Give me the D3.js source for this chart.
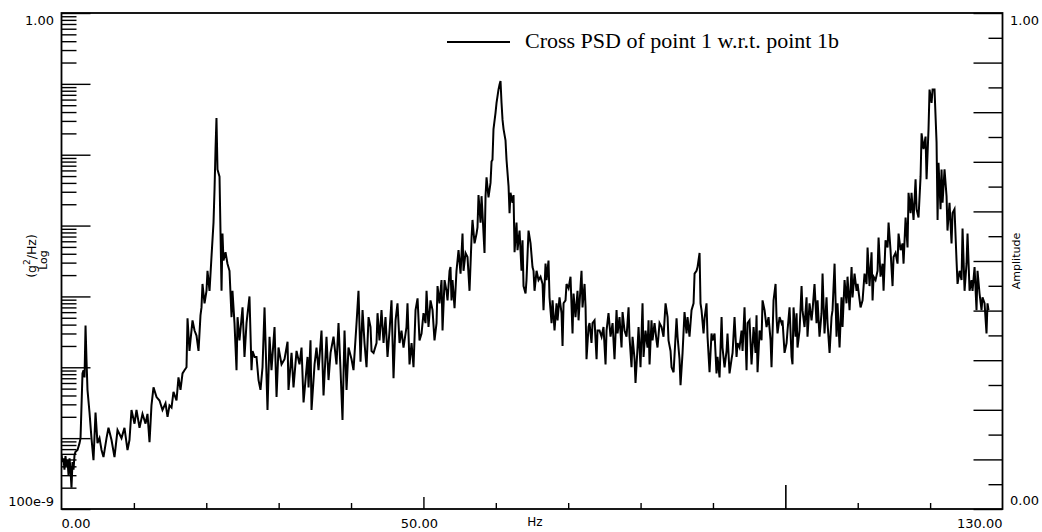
<!DOCTYPE html>
<html>
<head>
<meta charset="utf-8">
<script src="https://cdn.jsdelivr.net/npm/d3@7"></script>
<style>
  body { margin: 0; background: #fff; }
  svg { display: block; }
  .num { font-family: "DejaVu Sans", Verdana, sans-serif; font-size: 13px; fill: #000; }
</style>
</head>
<body>
<svg id="chart" width="1042" height="532"></svg>
<script>
// Cross PSD, point 1 w.r.t. point 1b: frequency (Hz) and PSD (g^2/Hz)
const freqHz = [
  0.00, 0.14, 0.28, 0.41, 0.55, 0.69, 0.83, 0.97, 1.11, 1.24, 1.38, 1.52, 1.66, 1.80, 1.93, 2.21, 2.49, 2.63,
  2.90, 3.04, 3.18, 3.32, 3.45, 3.59, 3.87, 4.14, 4.42, 4.70, 4.97, 5.25, 5.53, 5.80, 6.22, 6.49, 6.91, 7.32,
  7.74, 8.29, 8.70, 9.12, 9.39, 9.67, 10.09, 10.36, 10.78, 11.19, 11.61, 11.88, 12.16, 12.43, 12.71, 13.13,
  13.54, 13.95, 14.37, 14.65, 14.92, 15.20, 15.47, 15.89, 16.16, 16.44, 16.72, 16.99, 17.27, 17.41, 17.68,
  17.82, 18.10, 18.38, 18.65, 18.93, 19.20, 19.34, 19.48, 19.76, 20.03, 20.17, 20.45, 20.72, 21.00, 21.14,
  21.28, 21.41, 21.55, 21.83, 22.11, 22.24, 22.38, 22.66, 22.93, 23.21, 23.49, 23.62, 23.90, 24.18, 24.32,
  24.59, 25.01, 25.28, 25.56, 25.97, 26.25, 26.39, 26.67, 26.94, 27.22, 27.49, 27.77, 28.05, 28.46, 28.74,
  29.01, 29.43, 29.71, 29.98, 30.40, 30.81, 31.23, 31.36, 31.78, 32.05, 32.47, 32.88, 33.16, 33.44, 33.99,
  34.13, 34.40, 34.54, 34.96, 35.23, 35.51, 35.92, 36.20, 36.61, 36.89, 37.17, 37.58, 37.99, 38.27, 38.55,
  38.82, 39.10, 39.38, 39.65, 40.07, 40.34, 40.76, 41.03, 41.31, 41.59, 41.86, 42.14, 42.42, 42.69, 42.83,
  43.11, 43.52, 43.66, 43.93, 44.21, 44.49, 44.76, 45.04, 45.32, 45.59, 45.87, 46.15, 46.42, 46.70, 46.97,
  47.25, 47.66, 47.80, 48.08, 48.36, 48.63, 48.91, 49.19, 49.46, 49.74, 50.01, 50.29, 50.43, 50.70, 50.98,
  51.26, 51.53, 51.81, 51.95, 52.22, 52.50, 52.64, 52.92, 53.19, 53.33, 53.61, 53.74, 53.88, 54.02, 54.30,
  54.57, 54.85, 55.13, 55.40, 55.54, 55.82, 56.09, 56.37, 56.65, 56.78, 57.06, 57.34, 57.47, 57.61, 57.89,
  58.03, 58.16, 58.44, 58.58, 58.72, 58.99, 59.27, 59.41, 59.54, 59.68, 59.96, 60.10, 60.37, 60.51, 60.65,
  60.79, 60.93, 61.07, 61.34, 61.48, 61.76, 61.90, 62.03, 62.31, 62.45, 62.59, 62.86, 63.00, 63.28, 63.55,
  63.69, 63.83, 64.11, 64.24, 64.52, 64.80, 65.07, 65.21, 65.35, 65.63, 65.90, 66.18, 66.46, 66.59, 66.87,
  67.01, 67.28, 67.42, 67.70, 67.84, 68.11, 68.39, 68.53, 68.80, 69.08, 69.22, 69.36, 69.63, 69.77, 70.05,
  70.32, 70.60, 70.74, 71.01, 71.29, 71.43, 71.71, 71.84, 71.98, 72.26, 72.40, 72.53, 72.81, 72.95, 73.22,
  73.36, 73.64, 73.92, 74.05, 74.33, 74.61, 74.88, 75.16, 75.30, 75.57, 75.85, 76.13, 76.40, 76.68, 76.82,
  77.09, 77.37, 77.51, 77.78, 78.06, 78.34, 78.47, 78.75, 78.89, 79.17, 79.30, 79.58, 79.72, 79.99, 80.27,
  80.41, 80.68, 80.96, 81.10, 81.24, 81.51, 81.65, 81.93, 82.20, 82.34, 82.62, 82.90, 83.17, 83.45, 83.73,
  83.86, 84.14, 84.28, 84.56, 84.97, 85.11, 85.38, 85.52, 85.80, 86.07, 86.35, 86.49, 86.76, 87.04, 87.32,
  87.46, 87.73, 87.87, 88.15, 88.28, 88.42, 88.70, 88.84, 89.11, 89.25, 89.53, 89.80, 89.94, 90.22, 90.49,
  90.63, 90.91, 91.19, 91.32, 91.60, 91.88, 92.01, 92.29, 92.57, 92.71, 92.98, 93.26, 93.40, 93.67, 93.95,
  94.09, 94.36, 94.64, 94.78, 95.05, 95.33, 95.61, 95.88, 96.02, 96.16, 96.44, 96.71, 96.85, 97.13, 97.40,
  97.68, 97.96, 98.09, 98.37, 98.65, 98.78, 98.92, 99.20, 99.48, 99.61, 99.89, 100.17, 100.30, 100.58,
  100.86, 100.99, 101.13, 101.41, 101.55, 101.68, 101.96, 102.24, 102.37, 102.65, 102.93, 103.06, 103.34,
  103.62, 103.76, 104.03, 104.31, 104.45, 104.72, 105.00, 105.14, 105.41, 105.69, 105.83, 106.11, 106.38,
  106.52, 106.80, 107.07, 107.21, 107.49, 107.76, 107.90, 108.18, 108.45, 108.59, 108.87, 109.15, 109.28,
  109.56, 109.84, 109.98, 110.39, 110.67, 110.94, 111.22, 111.36, 111.63, 111.91, 112.05, 112.19, 112.46,
  112.74, 112.88, 113.15, 113.43, 113.57, 113.84, 114.12, 114.26, 114.53, 114.81, 114.95, 115.22, 115.50,
  115.64, 115.92, 116.19, 116.33, 116.61, 116.88, 117.02, 117.30, 117.43, 117.71, 117.99, 118.13, 118.40,
  118.68, 118.82, 119.09, 119.37, 119.51, 119.78, 119.92, 120.20, 120.34, 120.61, 120.89, 121.03, 121.16,
  121.44, 121.58, 121.72, 121.99, 122.27, 122.40, 122.68, 122.96, 123.10, 123.37, 123.65, 123.79, 124.07,
  124.34, 124.48, 124.76, 125.03, 125.17, 125.45, 125.72, 125.86, 126.14, 126.41, 126.55, 126.83, 127.10,
  127.24, 127.52, 127.79, 127.93, 128.07
];

const psd = [
  5.8e-7, 4.6e-7, 5.2e-7, 3.6e-7, 5.6e-7, 4.0e-7, 4.9e-7, 3.0e-7, 5.2e-7, 3.6e-7, 2.0e-7, 4.6e-7, 3.6e-7, 5.8e-7, 6.4e-7, 6.8e-7, 8.5e-7, 1.0e-6,
  8.2e-6, 9.1e-6, 7.2e-6, 3.9e-5, 1.3e-5, 4.8e-6, 2.3e-6, 1.0e-6, 4.9e-7, 2.3e-6, 8.5e-7, 1.0e-6, 6.8e-7, 5.4e-7, 1.0e-6, 1.4e-6, 9.4e-7, 5.4e-7,
  1.3e-6, 1.0e-6, 1.4e-6, 6.8e-7, 9.4e-7, 2.5e-6, 1.6e-6, 2.5e-6, 1.4e-6, 2.2e-6, 1.6e-6, 2.2e-6, 8.8e-7, 2.9e-6, 5.2e-6, 3.8e-6,
  3.4e-6, 2.5e-6, 3.1e-6, 2.0e-6, 2.9e-6, 2.7e-6, 4.5e-6, 3.4e-6, 7.2e-6, 4.8e-6, 8.2e-6, 9.1e-6, 1.0e-5, 4.9e-5, 1.7e-5,
  2.4e-5, 4.6e-5, 3.3e-5, 2.8e-5, 1.7e-5, 5.4e-5, 7.0e-5, 1.5e-4, 8.0e-5, 1.2e-4, 2.3e-4, 1.2e-4, 3.6e-4, 1.1e-3, 3.2e-3,
  1.2e-2, 3.3e-2, 6.2e-3, 4.9e-3, 1.2e-4, 7.7e-4, 3.2e-4, 4.2e-4, 2.9e-4, 2.3e-4, 5.1e-5, 1.2e-4, 4.2e-5, 9.1e-6, 5.1e-5,
  2.4e-5, 7.0e-5, 1.4e-5, 4.2e-5, 1.0e-4, 9.1e-6, 1.7e-5, 1.4e-5, 1.4e-5, 6.6e-6, 4.8e-6, 1.0e-5, 7.0e-5, 2.5e-6, 2.7e-5,
  9.1e-6, 3.7e-5, 3.8e-6, 1.9e-5, 1.1e-5, 1.3e-5, 2.3e-5, 4.8e-6, 1.6e-5, 5.2e-6, 1.7e-5, 1.1e-5, 1.9e-5, 3.2e-6, 1.4e-5,
  5.2e-6, 2.4e-5, 2.5e-6, 1.1e-5, 1.9e-5, 9.1e-6, 3.3e-5, 4.0e-6, 2.7e-5, 6.6e-6, 1.6e-5, 2.7e-5, 1.1e-5, 4.2e-5, 9.1e-6,
  1.8e-6, 3.3e-5, 4.8e-6, 1.9e-5, 1.3e-5, 9.1e-6, 4.2e-5, 1.2e-4, 1.2e-5, 6.4e-5, 2.2e-5, 1.0e-5, 5.1e-5, 3.7e-5, 1.7e-5,
  1.6e-5, 2.2e-5, 5.8e-5, 2.4e-5, 6.4e-5, 2.2e-5, 5.1e-5, 1.4e-5, 3.3e-5, 8.8e-5, 7.0e-6, 4.6e-5, 8.0e-5, 2.2e-5, 3.3e-5,
  1.9e-5, 3.7e-5, 8.0e-5, 1.1e-5, 2.2e-5, 1.0e-5, 6.4e-5, 9.4e-5, 2.4e-5, 3.0e-5, 5.8e-5, 4.2e-5, 1.2e-4, 3.7e-5, 8.8e-5,
  6.4e-5, 2.4e-5, 4.2e-5, 1.4e-4, 8.0e-5, 1.7e-4, 3.3e-5, 1.7e-4, 1.2e-4, 8.8e-5, 2.3e-4, 2.6e-4, 8.8e-5, 1.7e-4, 6.8e-5,
  2.3e-4, 4.5e-4, 2.1e-4, 7.7e-4, 2.3e-4, 4.1e-4, 3.6e-4, 1.2e-4, 6.8e-4, 1.2e-3, 5.6e-4, 7.7e-4, 9.4e-4, 2.7e-3, 1.1e-3,
  2.6e-3, 1.5e-3, 4.1e-4, 2.6e-3, 4.8e-3, 2.5e-3, 4.0e-3, 8.0e-3, 8.5e-3, 2.3e-2, 3.9e-2, 5.4e-2, 8.3e-2, 9.7e-2, 0.11,
  5.4e-2, 3.1e-2, 2.3e-2, 1.6e-2, 8.5e-3, 3.6e-3, 1.5e-3, 2.9e-3, 2.1e-3, 2.7e-3, 4.2e-4, 1.1e-3, 4.5e-4, 8.5e-4, 2.3e-4,
  6.2e-4, 1.4e-4, 1.1e-4, 1.7e-4, 8.5e-4, 5.6e-4, 2.6e-4, 2.3e-4, 1.2e-4, 2.3e-4, 1.7e-4, 1.9e-4, 1.5e-4, 6.4e-5, 2.9e-4,
  1.7e-4, 3.2e-4, 9.7e-5, 4.2e-5, 8.8e-5, 3.3e-5, 8.0e-5, 4.6e-5, 9.7e-5, 5.8e-5, 2.0e-5, 8.0e-5, 8.8e-5, 1.5e-4, 1.3e-4,
  1.9e-4, 3.0e-5, 1.1e-4, 5.1e-5, 1.2e-4, 4.6e-5, 1.4e-4, 2.3e-4, 7.0e-5, 1.5e-4, 7.0e-5, 1.3e-5, 3.7e-5, 4.2e-5, 2.2e-5,
  4.2e-5, 4.6e-5, 1.3e-5, 3.3e-5, 3.3e-5, 2.7e-5, 3.7e-5, 1.1e-5, 3.3e-5, 5.8e-5, 2.7e-5, 4.2e-5, 1.3e-5, 6.4e-5, 3.0e-5,
  5.1e-5, 1.9e-5, 6.0e-5, 3.3e-5, 2.7e-5, 7.0e-5, 2.7e-5, 1.0e-5, 2.7e-5, 1.3e-5, 6.0e-6, 1.9e-5, 3.7e-5, 1.0e-5, 8.0e-5,
  1.4e-5, 3.3e-5, 1.9e-5, 4.6e-5, 1.1e-5, 4.6e-5, 2.4e-5, 4.2e-5, 2.4e-5, 1.9e-5, 4.2e-5, 3.7e-5, 2.7e-5, 8.0e-5, 5.1e-5,
  2.4e-5, 1.7e-5, 1.0e-5, 8.5e-6, 4.9e-5, 2.7e-5, 1.3e-5, 5.6e-6, 1.6e-5, 6.0e-5, 3.0e-5, 5.1e-5, 2.7e-5, 6.4e-5, 8.0e-5,
  2.1e-4, 2.3e-4, 2.6e-4, 4.1e-4, 8.0e-5, 6.4e-5, 3.0e-5, 4.9e-5, 8.0e-5, 2.7e-5, 8.5e-6, 3.0e-5, 2.4e-5, 3.0e-5, 8.2e-6,
  1.4e-5, 7.2e-6, 5.1e-5, 1.9e-5, 1.0e-5, 1.7e-5, 3.0e-5, 8.2e-6, 1.3e-5, 1.6e-5, 5.1e-5, 1.4e-5, 2.2e-5, 1.9e-5, 3.3e-5,
  1.7e-5, 7.0e-5, 9.1e-6, 4.2e-5, 4.6e-5, 1.1e-5, 3.7e-5, 1.6e-5, 5.4e-5, 8.5e-6, 3.3e-5, 2.4e-5, 8.8e-5, 6.4e-5, 3.7e-5,
  5.1e-5, 2.4e-5, 1.0e-5, 8.8e-5, 1.5e-4, 5.1e-5, 3.0e-5, 5.1e-5, 4.2e-5, 4.6e-5, 1.6e-5, 2.2e-5, 3.3e-5, 7.0e-5,
  1.4e-5, 1.1e-5, 7.0e-5, 2.7e-5, 5.8e-5, 1.9e-5, 3.3e-5, 1.4e-4, 6.4e-5, 3.7e-5, 9.7e-5, 2.7e-5, 8.0e-5,
  4.6e-5, 6.4e-5, 1.5e-4, 4.2e-5, 8.8e-5, 2.7e-5, 5.8e-5, 2.1e-4, 3.0e-5, 9.7e-5, 4.2e-5, 1.6e-5, 5.1e-5,
  6.4e-5, 2.9e-4, 2.7e-5, 8.0e-5, 1.9e-5, 9.7e-5, 3.7e-5, 1.7e-4, 8.0e-5, 1.9e-4, 6.4e-5, 2.6e-4, 9.7e-5,
  2.1e-4, 1.2e-4, 1.5e-4, 7.0e-5, 8.8e-5, 2.1e-4, 1.5e-4, 4.9e-4, 1.4e-4, 4.2e-4, 8.8e-5, 1.9e-4, 1.7e-4,
  2.3e-4, 6.8e-4, 1.9e-4, 2.9e-4, 1.2e-4, 6.2e-4, 4.9e-4, 1.1e-3, 4.5e-4, 1.4e-4, 3.6e-4, 4.1e-4, 2.9e-4,
  7.7e-4, 4.5e-4, 5.6e-4, 2.9e-4, 1.3e-3, 4.9e-4, 2.9e-3, 1.5e-3, 2.9e-3, 1.2e-3, 4.5e-3, 1.7e-3, 1.3e-3,
  4.9e-3, 2.0e-2, 1.2e-2, 1.8e-2, 4.5e-3, 2.3e-2, 8.3e-2, 5.4e-2, 8.3e-2, 8.3e-2, 1.5e-2, 1.2e-3, 7.7e-3,
  1.7e-3, 6.2e-3, 2.1e-3, 6.2e-3, 2.6e-3, 8.5e-4, 2.1e-3, 5.6e-4, 1.5e-3, 1.7e-3, 3.2e-4, 1.5e-4, 2.3e-4,
  1.7e-4, 9.1e-4, 1.2e-4, 2.9e-4, 7.7e-4, 1.2e-4, 1.7e-4, 1.2e-4, 2.6e-4, 6.4e-5, 2.3e-4, 1.1e-4, 6.4e-5,
  9.7e-5, 8.0e-5, 3.0e-5, 8.0e-5, 6.4e-5
];

const seriesName = "Cross PSD of point 1 w.r.t. point 1b";
const xAxisTitle = "Hz";
const rightAxisTitle = "Amplitude";
const xLabelValues = [0, 50, 130];
const psdLabelValues = [1, 1e-7];
const psdLabelTexts = ["1.00", "100e-9"];
const ampLabelValues = [1, 0];

const svg = d3.select("#chart");
const frame = { left: 61.5, right: 1002.5, top: 13, bottom: 509 };

const x = d3.scaleLinear().domain([0, 130]).range([frame.left, frame.right]);
const y = d3.scaleLog().domain([1e-7, 1]).range([frame.bottom, frame.top]);
const yAmp = d3.scaleLinear().domain([0, 1]).range([frame.bottom, frame.top]);

svg.append("rect").attr("width", 1042).attr("height", 532).attr("fill", "#fff");

// clip for the trace
svg.append("clipPath").attr("id", "plotClip")
  .append("rect")
  .attr("x", frame.left).attr("y", frame.top)
  .attr("width", frame.right - frame.left).attr("height", frame.bottom - frame.top);

// --- left log axis: decade ticks long, intermediate ticks short (drawn inward)
const logTicks = y.ticks();
const isDecade = v => Math.abs(Math.log10(v) - Math.round(Math.log10(v))) < 1e-9;
const decadeTicks = logTicks.filter(isDecade);
const minorLogTicks = logTicks.filter(v => !isDecade(v));

function styleAxis(g, width) {
  g.select(".domain").remove();
  g.selectAll(".tick line").attr("stroke", "#000").attr("stroke-width", width);
  g.selectAll(".tick text").remove();
}

svg.append("g").attr("transform", `translate(${frame.left},0)`)
  .call(d3.axisRight(y).tickValues(minorLogTicks).tickSize(15).tickFormat(""))
  .call(g => styleAxis(g, 1.4));
svg.append("g").attr("transform", `translate(${frame.left},0)`)
  .call(d3.axisRight(y).tickValues(decadeTicks).tickSize(29).tickFormat(""))
  .call(g => styleAxis(g, 1.4));

// --- right linear amplitude axis: every 0.05, tenths long
const ampTicks = d3.range(0, 21).map(i => i / 20);
const ampLong = ampTicks.filter((v, i) => i % 2 === 0);
const ampShort = ampTicks.filter((v, i) => i % 2 === 1);
svg.append("g").attr("transform", `translate(${frame.right},0)`)
  .call(d3.axisLeft(yAmp).tickValues(ampLong).tickSize(29).tickFormat(""))
  .call(g => styleAxis(g, 1.4));
svg.append("g").attr("transform", `translate(${frame.right},0)`)
  .call(d3.axisLeft(yAmp).tickValues(ampShort).tickSize(14).tickFormat(""))
  .call(g => styleAxis(g, 1.4));

// --- bottom frequency axis: ticks every 10 Hz, taller at 50 and 100
const hzTicks = d3.range(10, 130, 10).filter(v => v !== 50 && v !== 100);
svg.append("g").attr("transform", `translate(0,${frame.bottom})`)
  .call(d3.axisTop(x).tickValues(hzTicks).tickSize(6).tickFormat(""))
  .call(g => styleAxis(g, 1.4));
svg.append("g").attr("transform", `translate(0,${frame.bottom})`)
  .call(d3.axisTop(x).tickValues([50]).tickSize(12).tickFormat(""))
  .call(g => styleAxis(g, 1.4));
svg.append("g").attr("transform", `translate(0,${frame.bottom})`)
  .call(d3.axisTop(x).tickValues([100]).tickSize(24).tickFormat(""))
  .call(g => styleAxis(g, 1.6));

// --- trace
const line = d3.line()
  .x((d, i) => x(freqHz[i]))
  .y(d => y(d));
svg.append("path")
  .datum(psd)
  .attr("clip-path", "url(#plotClip)")
  .attr("d", line)
  .attr("fill", "none")
  .attr("stroke", "#000")
  .attr("stroke-width", 2)
  .attr("stroke-linejoin", "miter");

// --- frame
svg.append("rect")
  .attr("x", frame.left).attr("y", frame.top)
  .attr("width", frame.right - frame.left).attr("height", frame.bottom - frame.top)
  .attr("fill", "none").attr("stroke", "#000").attr("stroke-width", 1.8);

// --- tick labels
const fmt = d3.format(".2f");
xLabelValues.forEach((v, i) => {
  const anchor = i === 0 ? "start" : (i === xLabelValues.length - 1 ? "end" : "middle");
  const px = i === 1 ? x(v) - 4 : x(v);
  svg.append("text").attr("class", "num")
    .attr("x", px).attr("y", 528)
    .attr("text-anchor", anchor)
    .text(fmt(v));
});

psdLabelValues.forEach((v, i) => {
  svg.append("text").attr("class", "num")
    .attr("x", 54).attr("y", y(v) + (i === 0 ? 12 : -3))
    .attr("text-anchor", "end")
    .text(psdLabelTexts[i]);
});

ampLabelValues.forEach((v, i) => {
  svg.append("text").attr("class", "num")
    .attr("x", 1010).attr("y", yAmp(v) + (i === 0 ? 12 : -4))
    .attr("text-anchor", "start")
    .text(fmt(v));
});

// --- axis titles
svg.append("text").attr("class", "num")
  .attr("x", 535).attr("y", 526).attr("text-anchor", "middle")
  .style("font-size", "12px")
  .text(xAxisTitle);

const yTitle = svg.append("text")
  .attr("transform", "translate(36,256) rotate(-90)")
  .attr("text-anchor", "middle")
  .style("font-family", "DejaVu Sans, sans-serif")
  .style("font-size", "12.5px");
yTitle.append("tspan").text("(g");
yTitle.append("tspan").attr("dy", -6).style("font-size", "9px").text("2");
yTitle.append("tspan").attr("dy", 6).text("/Hz)");

svg.append("text")
  .attr("transform", "translate(47,260) rotate(-90)")
  .attr("text-anchor", "middle")
  .style("font-family", "DejaVu Sans, sans-serif")
  .style("font-size", "11px")
  .text("Log");

svg.append("text")
  .attr("transform", "translate(1020,261) rotate(-90)")
  .attr("text-anchor", "middle")
  .style("font-family", "DejaVu Sans, sans-serif")
  .style("font-size", "11px")
  .text(rightAxisTitle);

// --- legend
const legend = svg.append("g");
legend.append("line")
  .attr("x1", 447).attr("x2", 510).attr("y1", 42).attr("y2", 42)
  .attr("stroke", "#000").attr("stroke-width", 2);
legend.append("text")
  .attr("x", 525).attr("y", 48)
  .style("font-family", "Liberation Serif, Times New Roman, serif")
  .style("font-size", "22px")
  .text(seriesName);
</script>
</body>
</html>
